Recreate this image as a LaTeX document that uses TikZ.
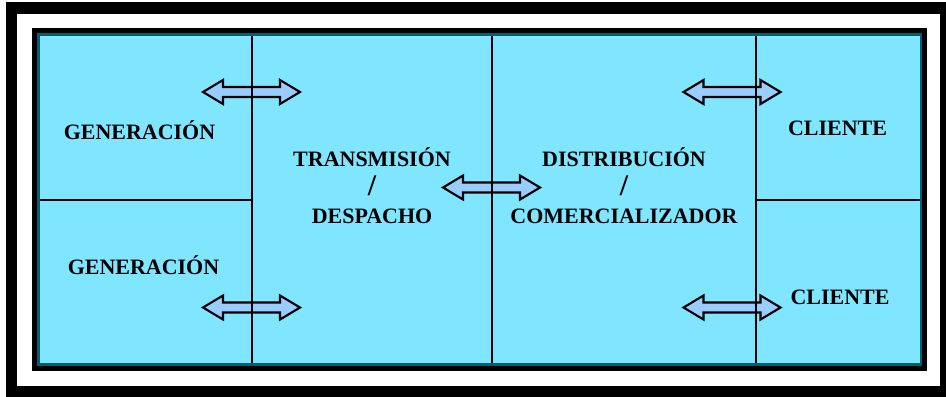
\documentclass[tikz,border=0pt]{standalone}
\usepackage{fontspec}
\setmainfont{Liberation Serif}
\usetikzlibrary{positioning}

\definecolor{panelfill}{RGB}{128,229,255}
\definecolor{paneledge}{RGB}{0,96,112}
\definecolor{arrowfill}{RGB}{153,204,255}

\tikzset{
  arrowbox/.style={draw=black, fill=arrowfill, line width=0.6pt, line join=miter},
  divider/.style={draw=black, line width=0.55pt},
  boxlabel/.style={font=\fontsize{6.25}{8.1}\selectfont\bfseries, align=center, inner sep=0pt}
}

% double headed block arrow centred on a coordinate
\newcommand{\twoway}[1]{%
  \draw[arrowbox, shift={(#1)}] (-48.5,0) -- (-28.5,-12) -- (-28.5,-5) -- (28.5,-5) -- (28.5,-12)
    -- (48.5,0) -- (28.5,12) -- (28.5,5) -- (-28.5,5) -- (-28.5,12) -- cycle;}
\newcommand{\bigslash}{{\fontsize{8.5}{8.1}\selectfont /}}

\begin{document}
\begin{tikzpicture}[x=0.01cm,y=-0.01cm]
  \useasboundingbox (0,0) rectangle (946,396);

  % Outer frame
  \draw[line width=0.115cm] (11.5,8) rectangle (946,391.5);

  % Panel with dark edge
  \fill[black] (32,28) rectangle (927,371);
  \fill[paneledge] (37,33) rectangle (922,366);
  \fill[panelfill] (40,36) rectangle (920,363);

  % Arrow anchors
  \coordinate (genTop) at (251.5,92);
  \coordinate (genBot) at (251.5,307.5);
  \coordinate (mid) at (491.5,187.5);
  \coordinate (cliTop) at (732,92);
  \coordinate (cliBot) at (732,307.5);

  % Exchange arrows
  \twoway{genTop}
  \twoway{genBot}
  \twoway{mid}
  \twoway{cliTop}
  \twoway{cliBot}

  % Column and row dividers
  \draw[divider] (252,36) -- (252,363);
  \draw[divider] (492,36) -- (492,363);
  \draw[divider] (756,36) -- (756,363);
  \draw[divider] (40,200) -- (252,200);
  \draw[divider] (756,200) -- (920,200);

  % Labels
  \node[boxlabel] (gen1) at (139.5,130) {GENERACIÓN};
  \node[boxlabel] (gen2) at (143.5,265) {GENERACIÓN};
  \node[boxlabel] (trans) at (372,186) {TRANSMISIÓN\\\bigslash\\DESPACHO};
  \node[boxlabel] (dist) at (624,186) {DISTRIBUCIÓN\\\bigslash\\COMERCIALIZADOR};
  \node[boxlabel] (cli1) at (837.5,128) {CLIENTE};
  \node[boxlabel] (cli2) at (840,297) {CLIENTE};
\end{tikzpicture}
\end{document}
